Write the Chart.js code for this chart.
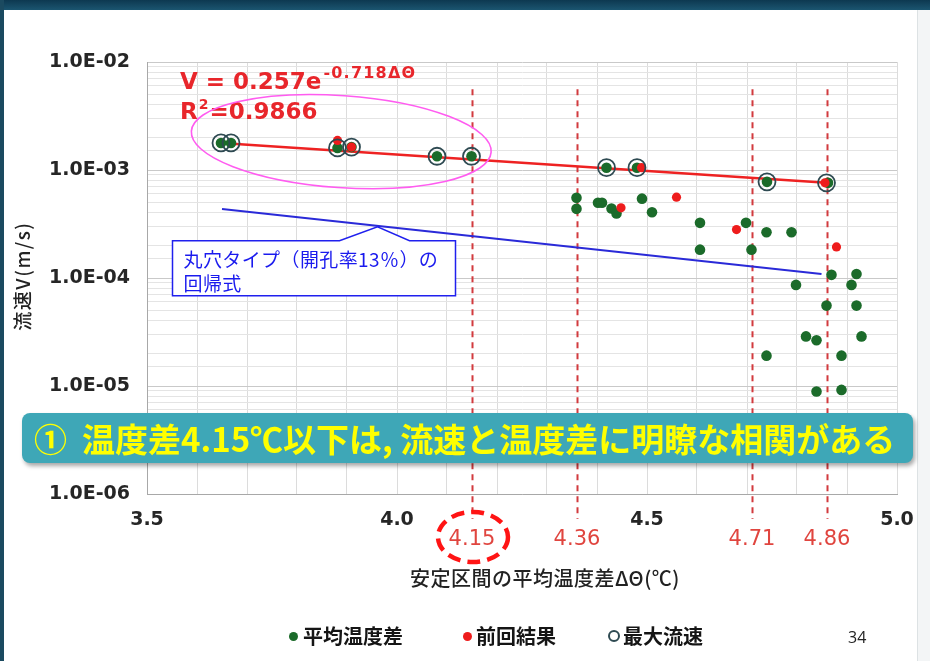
<!DOCTYPE html>
<html lang="ja">
<head>
<meta charset="utf-8">
<script src="https://cdn.jsdelivr.net/npm/chart.js@4.4.1/dist/chart.umd.min.js"></script>
<style>
  body { margin: 0; background: #fff; }
  #slide { position: relative; width: 930px; height: 661px; overflow: hidden; background: #fff;
           font-family: "Noto Sans CJK JP", sans-serif; }
  #topbar { position: absolute; left: 0; top: 0; width: 930px; height: 10px;
            background: linear-gradient(#0d3850, #1b5570); }
  #leftbar { position: absolute; left: 0; top: 0; width: 4px; height: 661px; background: #1b4a60; }
  #rightedge { position: absolute; left: 917px; top: 10px; width: 13px; height: 651px;
               background: #f3f5f6; border-left: 1px solid #dde2e4; }
  canvas { position: absolute; left: 0; top: 0; }
  #banner { position: absolute; left: 22px; top: 413px; width: 891px; height: 50px;
            background: #3ea7b7; border-radius: 8px; box-shadow: 2px 3px 4px rgba(0,0,0,0.35);
            color: #ffff00; font-weight: bold; font-size: 33px; line-height: 50px;
            padding-left: 12px; box-sizing: border-box; white-space: pre; letter-spacing: 0px; }
  .leg { position: absolute; top: 624px; font-size: 20px; font-weight: bold; color: #151515; line-height: 24px; }
  .dot { position: absolute; top: 632px; width: 9px; height: 9px; border-radius: 50%; }
  #page { position: absolute; left: 848px; top: 626px; font-family: "Open Sans"; font-size: 16px; color: #222; }
</style>
</head>
<body>
<div id="slide">
  <canvas id="chart" width="930" height="661"></canvas>
  <div id="topbar"></div>
  <div id="leftbar"></div>
  <div id="rightedge"></div>
  <div id="banner">①  温度差4.15℃以下は, 流速と温度差に明瞭な相関がある</div>

  <span class="dot" style="left:289px;background:#1b6b2a"></span>
  <span class="leg" style="left:303px">平均温度差</span>
  <span class="dot" style="left:463px;background:#ee1c1c"></span>
  <span class="leg" style="left:476px">前回結果</span>
  <span class="dot" style="left:608px;top:630px;width:8px;height:8px;border:2px solid #2e4a52;background:#fff"></span>
  <span class="leg" style="left:623px">最大流速</span>
  <span id="page">34</span>
</div>
<script>
// 平均温度差 (green)
const avgX = [3.648, 3.668, 3.881, 3.909, 4.080, 4.149, 4.419, 4.480, 4.740, 4.862,
              4.359, 4.359, 4.402, 4.410, 4.429, 4.439, 4.490, 4.510,
              4.606, 4.606, 4.698, 4.709, 4.739, 4.789,
              4.869, 4.919, 4.798, 4.909, 4.859, 4.919,
              4.818, 4.839, 4.929, 4.739, 4.889, 4.839, 4.889];
const avgV = [1.78e-3, 1.78e-3, 1.60e-3, 1.63e-3, 1.34e-3, 1.34e-3, 1.05e-3, 1.05e-3, 7.77e-4, 7.6e-4,
              5.52e-4, 4.37e-4, 4.97e-4, 4.97e-4, 4.40e-4, 3.95e-4, 5.43e-4, 4.06e-4,
              3.24e-4, 1.83e-4, 3.24e-4, 1.83e-4, 2.65e-4, 2.65e-4,
              1.07e-4, 1.09e-4, 8.63e-5, 8.63e-5, 5.55e-5, 5.55e-5,
              2.88e-5, 2.65e-5, 2.88e-5, 1.91e-5, 1.91e-5, 8.9e-6, 9.2e-6];

// 前回結果 (red)
const prevX = [3.881, 3.909, 4.448, 4.489, 4.559, 4.679, 4.856, 4.879];
const prevV = [1.88e-3, 1.63e-3, 4.46e-4, 1.05e-3, 5.60e-4, 2.81e-4, 7.6e-4, 1.94e-4];

// 最大流速 (open rings)
const maxX = [3.648, 3.668, 3.881, 3.909, 4.080, 4.149, 4.419, 4.480, 4.740, 4.859];
const maxV = [1.78e-3, 1.78e-3, 1.60e-3, 1.63e-3, 1.34e-3, 1.34e-3, 1.05e-3, 1.05e-3, 7.77e-4, 7.6e-4];

// regression lines (end points)
const fitX = [3.648, 4.859];
const fitV = [1.78e-3, 7.6e-4];
const holeX = [3.650, 4.849];
const holeV = [4.36e-4, 1.09e-4];

// 安定区間 boundaries
const markX = [4.15, 4.36, 4.71, 4.86];
const markTop = 5.6e-3;

const xTicks = ['3.5', '4.0', '4.5', '5.0'];
const yTicks = ['1.0E-06', '1.0E-05', '1.0E-04', '1.0E-03', '1.0E-02'];

const pts = (xs, ys) => xs.map((x, i) => ({ x: x, y: ys[i] }));

const deco = {
  id: 'deco',
  beforeDatasetsDraw(chart) {
    const { ctx, chartArea, scales: { x, y } } = chart;
    ctx.save();
    ctx.strokeStyle = '#d23a3e';
    ctx.lineWidth = 2;
    ctx.setLineDash([6, 5]);
    markX.forEach(v => {
      const px = Math.round(x.getPixelForValue(v)) + 0.5;
      ctx.beginPath();
      ctx.moveTo(px, y.getPixelForValue(markTop));
      ctx.lineTo(px, chartArea.bottom + 25);
      ctx.stroke();
    });
    ctx.restore();
  },
  afterDraw(chart) {
    const { ctx, chartArea, scales: { x, y } } = chart;
    ctx.save();

    // boundary labels under the axis
    ctx.fillStyle = '#e0453f';
    ctx.font = '21px "DejaVu Sans"';
    ctx.textAlign = 'center';
    ctx.textBaseline = 'middle';
    markX.forEach(v => ctx.fillText(v.toFixed(2), x.getPixelForValue(v), chartArea.bottom + 46));

    // dashed ring round the first boundary label
    ctx.strokeStyle = '#ff1414';
    ctx.lineWidth = 4.5;
    ctx.setLineDash([13, 7]);
    ctx.beginPath();
    ctx.ellipse(x.getPixelForValue(markX[0]) + 1, chartArea.bottom + 43, 35, 25, 0, 0, Math.PI * 2);
    ctx.stroke();
    ctx.setLineDash([]);

    // axis titles
    ctx.fillStyle = '#222';
    ctx.font = '500 20px "Noto Sans CJK JP"';
    ctx.letterSpacing = '0.5px';
    ctx.fillText('安定区間の平均温度差ΔΘ(℃)', 545, 578);
    ctx.save();
    ctx.translate(23, 276);
    ctx.rotate(-Math.PI / 2);
    ctx.font = '500 19px "Noto Sans CJK JP"';
    ctx.letterSpacing = '1.5px';
    ctx.fillText('流速V(m/s)', 0, 0);
    ctx.restore();
    ctx.letterSpacing = '0px';

    // regression formula
    const ex = chartArea.left + 33;
    ctx.fillStyle = '#e8262b';
    ctx.textAlign = 'left';
    ctx.font = 'bold 23px "DejaVu Sans"';
    ctx.fillText('V = 0.257e', ex, 83);
    let w = ctx.measureText('V = 0.257e').width;
    ctx.font = 'bold 16px "DejaVu Sans"';
    ctx.letterSpacing = '1.2px';
    ctx.fillText('-0.718ΔΘ', ex + w + 2, 74);
    ctx.letterSpacing = '0px';
    ctx.font = 'bold 23px "DejaVu Sans"';
    ctx.fillText('R', ex, 113);
    w = ctx.measureText('R').width;
    ctx.font = 'bold 14px "DejaVu Sans"';
    ctx.fillText('2', ex + w + 1, 105);
    const w2 = ctx.measureText('2').width;
    ctx.font = 'bold 23px "DejaVu Sans"';
    ctx.fillText('=0.9866', ex + w + w2 + 2, 113);

    // magenta ring round the low-ΔΘ group
    const x0 = x.getPixelForValue(maxX[0]) - 30, x1 = x.getPixelForValue(maxX[5]) + 20;
    const y0 = y.getPixelForValue(maxV[0]), y1 = y.getPixelForValue(maxV[5]);
    ctx.strokeStyle = '#ff5cf0';
    ctx.lineWidth = 1.6;
    ctx.beginPath();
    ctx.ellipse((x0 + x1) / 2, (y0 + y1) / 2 - 8, (x1 - x0) / 2, 46, Math.atan2(21, 300), 0, Math.PI * 2);
    ctx.stroke();

    // callout for the blue regression line
    const ax = x.getPixelForValue(3.961);
    const t = (3.961 - holeX[0]) / (holeX[1] - holeX[0]);
    const ay = y.getPixelForValue(Math.pow(10, Math.log10(holeV[0]) + t * (Math.log10(holeV[1]) - Math.log10(holeV[0]))));
    const bl = ax - 205, br = ax + 78, bt = ay + 15, bb = ay + 70;
    ctx.fillStyle = '#fff';
    ctx.strokeStyle = '#2020ee';
    ctx.lineWidth = 1.5;
    ctx.beginPath();
    ctx.moveTo(bl, bt);
    ctx.lineTo(ax - 38, bt);
    ctx.lineTo(ax, ay + 1);
    ctx.lineTo(ax + 32, bt);
    ctx.lineTo(br, bt);
    ctx.lineTo(br, bb);
    ctx.lineTo(bl, bb);
    ctx.closePath();
    ctx.fill();
    ctx.stroke();
    ctx.fillStyle = '#1a1aee';
    ctx.font = '19px "Noto Sans CJK JP"';
    ctx.letterSpacing = '0.4px';
    ctx.fillText('丸穴タイプ（開孔率13％）の', bl + 11, bt + 19);
    ctx.fillText('回帰式', bl + 11, bt + 43);

    ctx.restore();
  }
};

Chart.defaults.font.family = '"Noto Sans CJK JP", sans-serif';

new Chart(document.getElementById('chart'), {
  type: 'scatter',
  data: {
    datasets: [
      {
        label: '最大流速', data: pts(maxX, maxV), order: 0,
        pointRadius: 8.5, pointBorderWidth: 1.8, pointBorderColor: '#2e4a52',
        pointBackgroundColor: 'rgba(0,0,0,0)'
      },
      {
        label: '前回結果', data: pts(prevX, prevV), order: 1,
        pointRadius: 4.6, pointBorderWidth: 0, pointBackgroundColor: '#ee1c1c'
      },
      {
        label: '平均温度差', data: pts(avgX, avgV), order: 2,
        pointRadius: 5.3, pointBorderWidth: 0, pointBackgroundColor: '#1b6b2a'
      },
      {
        label: 'fit', data: pts(fitX, fitV), order: 3, showLine: true,
        borderColor: '#ee2222', borderWidth: 2.5, pointRadius: 0
      },
      {
        label: 'hole', data: pts(holeX, holeV), order: 4, showLine: true,
        borderColor: '#2a2ad8', borderWidth: 2, pointRadius: 0
      }
    ]
  },
  options: {
    responsive: false,
    animation: false,
    layout: { padding: { top: 62, right: 33, left: 0, bottom: 0 } },
    plugins: { legend: { display: false }, tooltip: { enabled: false } },
    scales: {
      x: {
        type: 'linear', min: 3.5, max: 5.0,
        afterFit: s => { s.height = 167; },
        border: { display: true, color: '#a8a8a8', width: 1 },
        grid: { color: '#dcdcdc', drawTicks: false },
        ticks: {
          stepSize: 0.1, autoSkip: false, maxRotation: 0, padding: 15,
          color: '#262626', font: { family: 'DejaVu Sans', weight: 'bold', size: 19 },
          callback: v => {
            const k = Math.round(v * 2);
            return Math.abs(v * 2 - k) < 1e-6 ? xTicks[k - 7] : '';
          }
        }
      },
      y: {
        type: 'logarithmic', min: 1e-6, max: 1e-2,
        afterFit: s => { s.width = 147; },
        border: { display: true, color: '#a8a8a8', width: 1 },
        grid: {
          drawTicks: false,
          color: c => {
            const l = Math.log10(c.tick.value);
            return Math.abs(l - Math.round(l)) < 1e-6 ? '#c9c9c9' : '#e4e4e4';
          }
        },
        ticks: {
          autoSkip: false, padding: 17,
          color: '#262626', font: { family: 'DejaVu Sans', weight: 'bold', size: 19 },
          callback: v => {
            const l = Math.log10(v);
            const k = Math.round(l);
            return Math.abs(l - k) < 1e-6 ? yTicks[k + 6] : '';
          }
        }
      }
    }
  },
  plugins: [deco]
});
</script>
</body>
</html>
